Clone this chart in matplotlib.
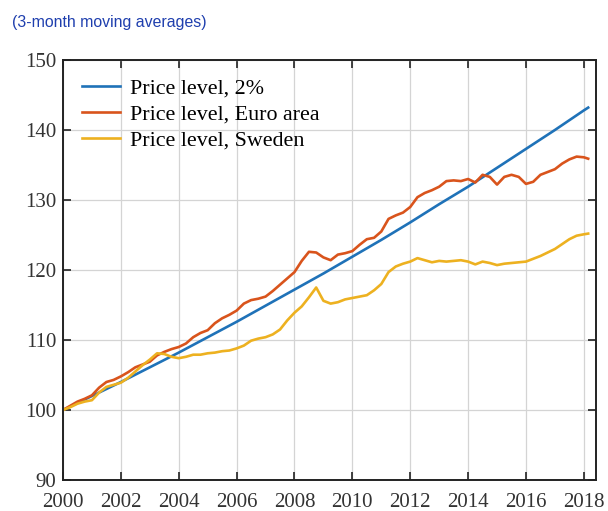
import numpy as np
import matplotlib
matplotlib.use("Agg")
import matplotlib.pyplot as plt

# quarterly time grid (last point ~Feb 2018)
years = [2000 + q / 4 for q in range(73)] + [2018.15]

# 2% target path, read at year points
target_years = list(range(2000, 2019)) + [2018.15]
target_level = [100.0, 102.0, 104.0, 106.1, 108.2, 110.4, 112.6, 114.9, 117.2, 119.5,
                121.9, 124.3, 126.8, 129.4, 131.9, 134.6, 137.3, 140.0, 142.8, 143.2]

euro_level = [100.0, 100.6, 101.2, 101.6, 102.1, 103.2, 104.0, 104.3,
              104.8, 105.4, 106.1, 106.5, 106.9, 107.8, 108.3, 108.7,
              109.0, 109.5, 110.4, 111.0, 111.4, 112.4, 113.1, 113.6,
              114.2, 115.2, 115.7, 115.9, 116.2, 117.0, 117.9, 118.8,
              119.7, 121.3, 122.6, 122.5, 121.8, 121.4, 122.2, 122.4,
              122.7, 123.6, 124.4, 124.6, 125.5, 127.3, 127.8, 128.2,
              129.0, 130.4, 131.0, 131.4, 131.9, 132.7, 132.8, 132.7,
              133.0, 132.5, 133.6, 133.3, 132.2, 133.3, 133.6, 133.3,
              132.3, 132.6, 133.6, 134.0, 134.4, 135.2, 135.8, 136.2,
              136.1, 135.9]

sweden_level = [100.0, 100.4, 100.9, 101.2, 101.4, 102.5, 103.3, 103.6,
                103.9, 104.6, 105.5, 106.4, 107.2, 108.1, 108.0, 107.6,
                107.4, 107.6, 107.9, 107.9, 108.1, 108.2, 108.4, 108.5,
                108.8, 109.2, 109.9, 110.2, 110.4, 110.8, 111.5, 112.8,
                113.9, 114.8, 116.1, 117.5, 115.6, 115.2, 115.4, 115.8,
                116.0, 116.2, 116.4, 117.1, 118.0, 119.7, 120.5, 120.9,
                121.2, 121.7, 121.4, 121.1, 121.3, 121.2, 121.3, 121.4,
                121.2, 120.8, 121.2, 121.0, 120.7, 120.9, 121.0, 121.1,
                121.2, 121.6, 122.0, 122.5, 123.0, 123.7, 124.4, 124.9,
                125.1, 125.2]

labels = ["Price level, 2%", "Price level, Euro area", "Price level, Sweden"]
colors = ["#1f72b8", "#d9541c", "#edb120"]

serif = "Liberation Serif"

fig = plt.figure(figsize=(6.08, 5.11), dpi=100)
ax = fig.add_axes([63 / 608, 31 / 511, 533 / 608, 420 / 511])

ax.plot(target_years, target_level, color=colors[0], lw=1.9, label=labels[0])
ax.plot(years, euro_level, color=colors[1], lw=1.9, label=labels[1])
ax.plot(years, sweden_level, color=colors[2], lw=1.9, label=labels[2])

ax.set_xlim(2000, 2018.42)
ax.set_ylim(90, 150)
ax.set_xticks(range(2000, 2019, 2))
ax.set_yticks(range(90, 151, 10))
ax.grid(True, color="#d4d4d4", lw=0.9)
ax.set_axisbelow(True)
ax.tick_params(direction="in", length=6, width=1.2, top=True, right=True,
               labelsize=15, pad=5, colors="#222222", labelcolor="#333333")
ax.tick_params(axis="x", pad=9)
for lab in ax.get_xticklabels() + ax.get_yticklabels():
    lab.set_family(serif)
for sp in ax.spines.values():
    sp.set_linewidth(1.4)
    sp.set_color("#222222")

leg = ax.legend(loc="upper left", frameon=False, prop={"family": serif, "size": 15.8},
                handlelength=1.75, handletextpad=0.45, labelspacing=0.25,
                borderaxespad=0.45)

fig.text(12 / 608, 1 - 22 / 511, "(3-month moving averages)", color="#1f3fae",
         fontsize=11.4, family="Liberation Sans", va="center", ha="left")

fig.savefig("out.png", dpi=100, facecolor="white")
